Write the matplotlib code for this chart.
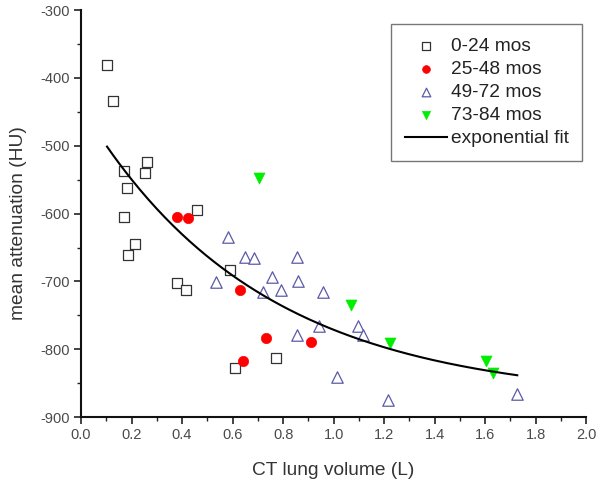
import numpy as np
import matplotlib
matplotlib.use("Agg")
import matplotlib.pyplot as plt
from matplotlib.ticker import MultipleLocator

plt.rcParams['font.family'] = ['Liberation Sans', 'DejaVu Sans']
plt.rcParams['axes.unicode_minus'] = False

# 0-24 mos
sq_x = [0.103, 0.127, 0.170, 0.261, 0.253, 0.182, 0.170, 0.214, 0.186, 0.459, 0.590, 0.380, 0.416, 0.772, 0.610]
sq_y = [-381, -434, -537, -524, -540, -563, -605, -645, -661, -595, -683, -703, -712, -813, -827]
# 25-48 mos
ci_x = [0.380, 0.424, 0.630, 0.733, 0.642, 0.911]
ci_y = [-605, -607, -712, -784, -818, -790]
# 49-72 mos
tr_x = [0.582, 0.650, 0.685, 0.855, 0.535, 0.756, 0.859, 0.721, 0.792, 0.958, 0.943, 0.855, 1.097, 1.117, 1.014, 1.216, 1.727]
tr_y = [-635, -664, -666, -664, -701, -694, -700, -716, -713, -716, -765, -779, -766, -779, -841, -875, -866]
# 73-84 mos
gr_x = [0.705, 1.069, 1.224, 1.604, 1.632]
gr_y = [-548, -734, -791, -818, -835]

# exponential fit y = y0 + A*exp(-x/t)
fit_y0 = -875.0
fit_A = 433.0
fit_t = 0.7
fit_xmin, fit_xmax = 0.103, 1.727

fig = plt.figure(figsize=(6, 4.8), dpi=100)
ax = fig.add_axes([0.135, 0.131, 0.842, 0.848])

ax.scatter(sq_x, sq_y, marker='s', s=50, facecolors='white', edgecolors='#333333', linewidths=0.9, label='0-24 mos', zorder=3)
ax.scatter(ci_x, ci_y, marker='o', s=55, facecolors='#ff0000', edgecolors='#ff0000', linewidths=0.5, label='25-48 mos', zorder=3)
ax.scatter(tr_x, tr_y, marker='^', s=68, facecolors='white', edgecolors='#5a5aa8', linewidths=0.9, label='49-72 mos', zorder=3)
ax.scatter(gr_x, gr_y, marker='v', s=62, facecolors='#00ee00', edgecolors='#00ee00', linewidths=0.5, label='73-84 mos', zorder=3)

fx = np.linspace(fit_xmin, fit_xmax, 200)
fy = fit_y0 + fit_A * np.exp(-fx / fit_t)
ax.plot(fx, fy, color='black', lw=1.5, label='exponential fit', zorder=4)

ax.set_xlim(0, 2.0)
ax.set_ylim(-900, -300)
ax.xaxis.set_major_locator(MultipleLocator(0.2))
ax.xaxis.set_minor_locator(MultipleLocator(0.1))
ax.yaxis.set_major_locator(MultipleLocator(100))
ax.yaxis.set_minor_locator(MultipleLocator(50))
ax.set_xticks(np.arange(0, 2.01, 0.2))
ax.set_xticklabels([f"{v:.1f}" for v in np.arange(0, 2.01, 0.2)])
ax.tick_params(axis='both', which='major', direction='out', length=5, width=1.2, labelsize=10.5,
               colors='#222222', labelcolor='#4a4a4a', pad=3)
ax.tick_params(axis='both', which='minor', direction='out', length=3, width=1.0, colors='#222222')
for s in ['top', 'right']:
    ax.spines[s].set_visible(False)
for s in ['left', 'bottom']:
    ax.spines[s].set_linewidth(1.5)
    ax.spines[s].set_color('#111111')

ax.set_xlabel('CT lung volume (L)', fontsize=13.8, color='#333333', labelpad=14)
ax.set_ylabel('mean attenuation (HU)', fontsize=13.8, color='#333333')
ax.yaxis.set_label_coords(-0.107, 0.477)

leg = ax.legend(loc='upper right', bbox_to_anchor=(0.9915, 0.966), fontsize=13.8, frameon=True, fancybox=False,
                edgecolor='#555555', handlelength=2.2, borderpad=0.7, labelspacing=0.3, handletextpad=0.2,
                borderaxespad=0.0, scatterpoints=1, markerscale=0.75)
leg.get_frame().set_linewidth(1.0)
for t in leg.get_texts():
    t.set_color('#222222')

fig.savefig('out.png', dpi=100)
